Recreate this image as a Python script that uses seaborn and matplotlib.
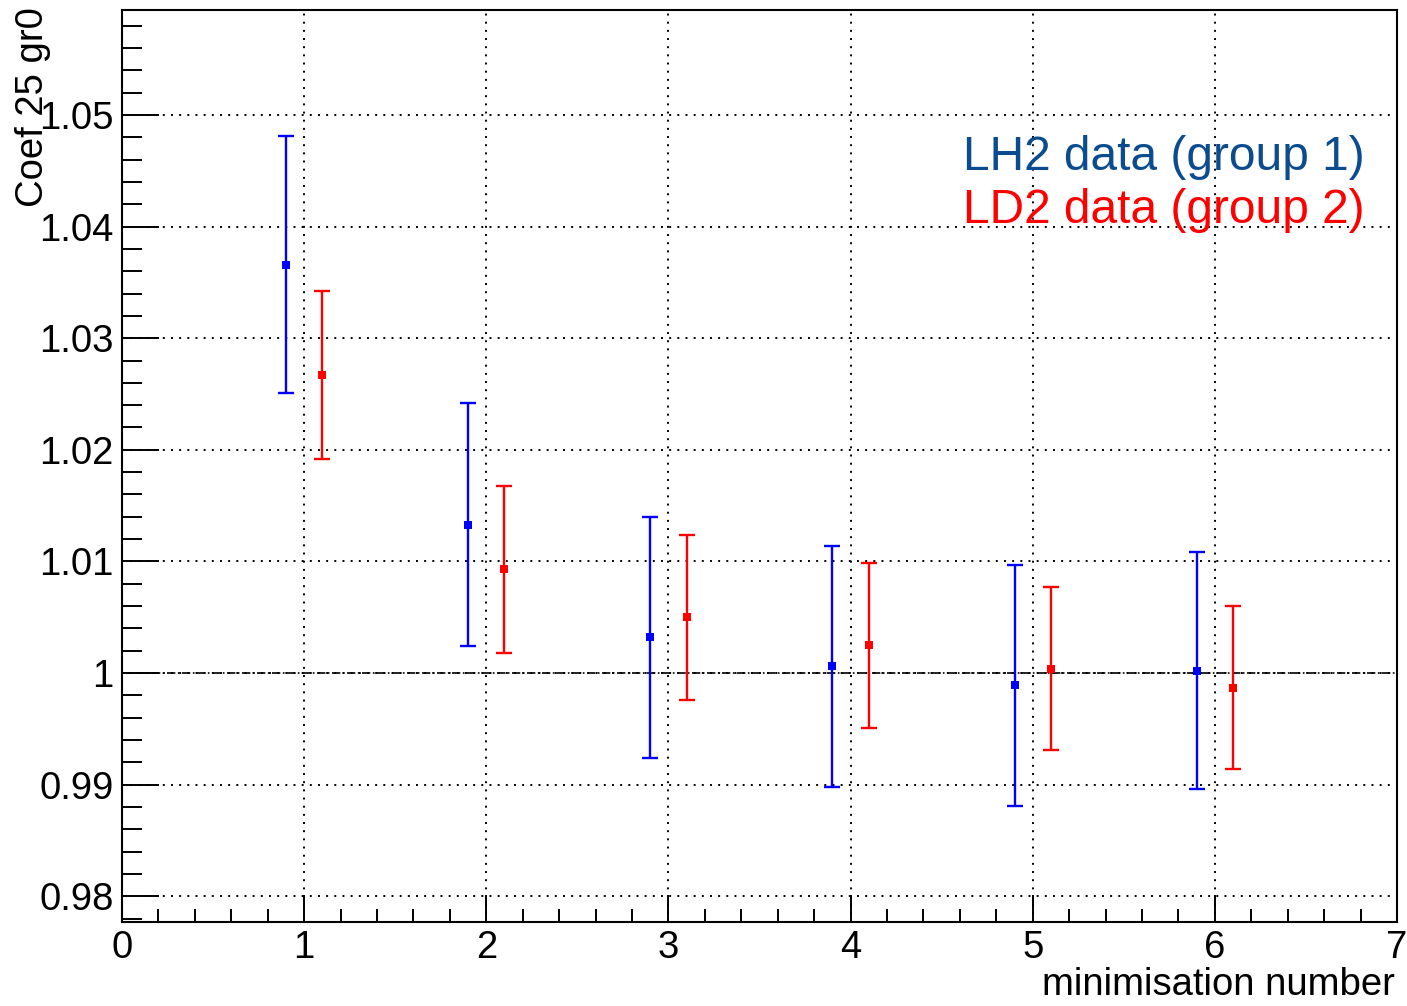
import numpy as np
import pandas as pd
import seaborn as sns
import matplotlib
matplotlib.use("Agg")
import matplotlib.pyplot as plt
from matplotlib.ticker import MultipleLocator, FixedLocator, FixedFormatter

sns.set_style("white")
plt.rcParams["font.family"] = ["Liberation Sans", "DejaVu Sans"]
plt.rcParams["text.color"] = "black"

# Minimisation results
minimisation = [1, 2, 3, 4, 5, 6]
lh2_coef = [1.0366, 1.0133, 1.0032, 1.0006, 0.9989, 1.0002]
lh2_err = [0.0115, 0.0109, 0.0108, 0.0108, 0.0108, 0.0106]
ld2_coef = [1.0267, 1.0093, 1.0050, 1.0025, 1.0004, 0.9987]
ld2_err = [0.0075, 0.0075, 0.0074, 0.0074, 0.0073, 0.0073]

y_ticks = [0.98, 0.99, 1.00, 1.01, 1.02, 1.03, 1.04, 1.05]
y_tick_labels = ["0.98", "0.99", "1", "1.01", "1.02", "1.03", "1.04", "1.05"]
x_ticks = [0, 1, 2, 3, 4, 5, 6, 7]

groups = [
    ("LH2 data (group 1)", lh2_coef, lh2_err, -0.1, "#0000ff", "#0b4b8f"),
    ("LD2 data (group 2)", ld2_coef, ld2_err, 0.1, "#ff0000", "#ff0000"),
]

fig = plt.figure(figsize=(14.07, 10.06), dpi=100)
ax = fig.add_axes([0.0867, 0.0835, 0.9062, 0.9065])

for name, coef, err, shift, col, _ in groups:
    df = pd.DataFrame({"x": np.array(minimisation) + shift, "y": coef, "e": err})
    ax.errorbar(df["x"], df["y"], yerr=df["e"], fmt="none", ecolor=col,
                elinewidth=1.7, capsize=5.5, capthick=1.7, zorder=3)
    sns.scatterplot(data=df, x="x", y="y", ax=ax, marker="s", s=28,
                    color=col, edgecolor=col, linewidth=0, zorder=4, legend=False)

ax.set_xlim(0, 7)
ax.set_ylim(0.97769, 1.0594)

ax.xaxis.set_major_locator(FixedLocator(x_ticks))
ax.xaxis.set_minor_locator(MultipleLocator(0.2))
ax.yaxis.set_major_locator(FixedLocator(y_ticks))
ax.yaxis.set_major_formatter(FixedFormatter(y_tick_labels))
ax.yaxis.set_minor_locator(MultipleLocator(0.002))

ax.tick_params(axis="x", which="major", direction="in", length=19.5, width=1.4,
               labelsize=27.5, pad=6, color="black", labelcolor="black")
ax.tick_params(axis="x", which="minor", direction="in", length=9.5, width=1.4, color="black")
ax.tick_params(axis="y", which="major", direction="in", length=26.5, width=1.4,
               labelsize=27.5, pad=6, color="black", labelcolor="black")
ax.tick_params(axis="y", which="minor", direction="in", length=14.5, width=1.4, color="black")
ax.tick_params(which="both", bottom=True, left=True, top=False, right=False)

ax.grid(True, which="major", color="black", linestyle=(0, (1, 3.2)), linewidth=1.4)
ax.axhline(1.0, color="black", linestyle=(0, (5, 1.5, 1, 1.5)), linewidth=1.2, zorder=2)

for s in ax.spines.values():
    s.set_color("black")
    s.set_linewidth(1.5)
    s.set_visible(True)

ax.set_xlabel("")
ax.set_ylabel("")
fig.text(0.9915, 0.003, "minimisation number", ha="right", va="bottom",
         fontsize=27.5, color="black")
fig.text(0.0105, 0.993, "Coef 25 gr0", ha="left", va="top", rotation=90,
         fontsize=27.5, color="black")

for i, (name, _, _, _, _, tcol) in enumerate(groups):
    ax.text(0.9745, 0.825 - i * 0.059, name, transform=ax.transAxes, ha="right",
            va="baseline", fontsize=34.5, color=tcol)

fig.savefig("out.png", dpi=100)
